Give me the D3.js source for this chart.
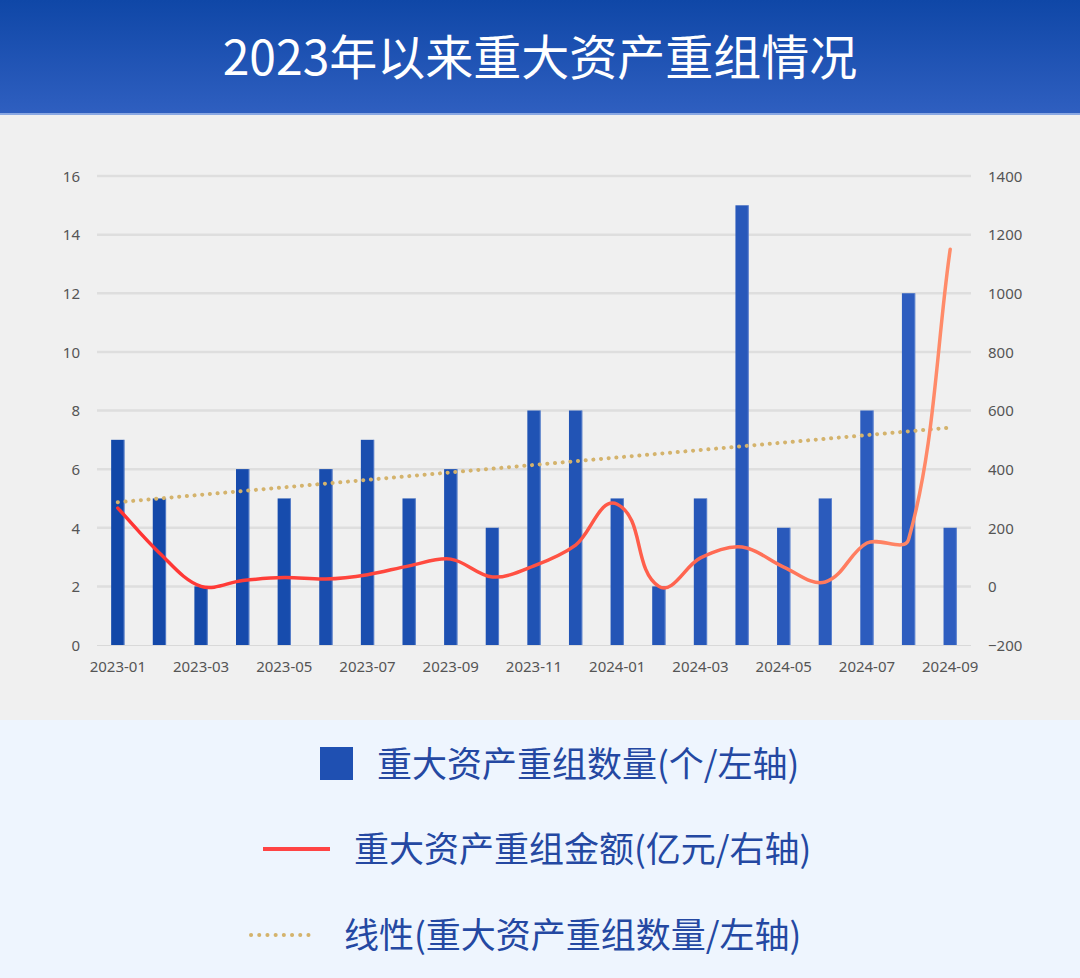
<!DOCTYPE html>
<html><head><meta charset="utf-8">
<script src="https://cdn.jsdelivr.net/npm/d3@7"></script>
<style>
html,body{margin:0;padding:0;background:#f0f0f0;}
svg{display:block;}
</style></head>
<body>
<script>
const months = ["2023-01","2023-02","2023-03","2023-04","2023-05","2023-06","2023-07","2023-08","2023-09","2023-10","2023-11","2023-12","2024-01","2024-02","2024-03","2024-04","2024-05","2024-06","2024-07","2024-08","2024-09"];
const counts = [7,5,2,6,5,6,7,5,6,4,8,8,5,2,5,15,4,5,8,12,4];
const amounts = [267,114,0,20,30,25,40,70,93,32,70,141,280,0,97,134,66,15,148,160,1150];
const leftTicks = [0,2,4,6,8,10,12,14,16];
const rightTicks = [-200,0,200,400,600,800,1000,1200,1400];
const title = "2023年以来重大资产重组情况";
const legendLabels = ["重大资产重组数量(个/左轴)","重大资产重组金额(亿元/右轴)","线性(重大资产重组数量/左轴)"];

const W = 1080, H = 978;
const svg = d3.select("body").append("svg").attr("width", W).attr("height", H);
const defs = svg.append("defs");

const hg = defs.append("linearGradient").attr("id","hdr").attr("x1",0).attr("y1",0).attr("x2",0).attr("y2",1);
hg.append("stop").attr("offset","0%").attr("stop-color","#0f47a7");
hg.append("stop").attr("offset","100%").attr("stop-color","#2f5fc0");

svg.append("rect").attr("x",0).attr("y",0).attr("width",W).attr("height",114).attr("fill","url(#hdr)");
svg.append("rect").attr("x",0).attr("y",113).attr("width",W).attr("height",2).attr("fill","#8aa8e2");
svg.append("rect").attr("x",0).attr("y",115).attr("width",W).attr("height",605).attr("fill","#f0f0f0");
svg.append("rect").attr("x",0).attr("y",720).attr("width",W).attr("height",H-720).attr("fill","#eef5fe");

svg.append("text").attr("x",540).attr("y",75).attr("text-anchor","middle")
  .attr("font-family","'Noto Sans CJK SC', 'Noto Sans', sans-serif").attr("font-size",48)
  .attr("fill","#ffffff").text(title);

const x = d3.scaleBand().domain(months).range([97, 971]).paddingInner(0.68).paddingOuter(0.34);
const yL = d3.scaleLinear().domain([0,16]).range([645,176]);
const yR = d3.scaleLinear().domain([-200,1400]).range([645,176]);

const g = svg.append("g");
g.selectAll("line.grid").data(leftTicks.filter(d=>d>0)).join("line")
  .attr("x1",97).attr("x2",971).attr("y1",d=>yL(d)).attr("y2",d=>yL(d))
  .attr("stroke","#dedede").attr("stroke-width",2.5);
g.append("line").attr("x1",97).attr("x2",971).attr("y1",645.5).attr("y2",645.5).attr("stroke","#d9d9d9").attr("stroke-width",1);

const tickFont = "'Noto Sans', 'DejaVu Sans', sans-serif";
const axL = svg.append("g").attr("transform","translate(80,0)")
  .call(d3.axisLeft(yL).tickValues(leftTicks).tickSize(0).tickPadding(0).tickFormat(d3.format("d")));
const axR = svg.append("g").attr("transform","translate(988,0)")
  .call(d3.axisRight(yR).tickValues(rightTicks).tickSize(0).tickPadding(0).tickFormat(d3.format("d")));
const axB = svg.append("g").attr("transform","translate(0,645)")
  .call(d3.axisBottom(x).tickValues(months.filter((d,i)=>i%2===0)).tickSize(0).tickPadding(16));
[axL,axR,axB].forEach(a=>{
  a.select(".domain").remove();
  a.selectAll("text").attr("font-family",tickFont).attr("font-size",15).attr("fill","#555555");
});
axL.selectAll("text").attr("dy","0.35em");
axR.selectAll("text").attr("dy","0.35em");

const barColor = d3.scaleLinear().domain([0, months.length-1]).range(["#1147a8","#2f5ec0"]);
g.selectAll("rect.bar").data(counts).join("rect")
  .attr("x",(d,i)=>x(months[i])).attr("width",x.bandwidth())
  .attr("y",d=>yL(d)).attr("height",d=>yL(0)-yL(d))
  .attr("fill",(d,i)=>barColor(i));
g.selectAll("rect.edge").data(counts).join("rect")
  .attr("x",(d,i)=>x(months[i])+x.bandwidth()-1).attr("width",1)
  .attr("y",d=>yL(d)).attr("height",d=>yL(0)-yL(d))
  .attr("fill","#7f9fdc").attr("opacity",0.6);

const cx = i => x(months[i]) + x.bandwidth()/2;

const n = counts.length;
const mx = d3.mean(counts,(d,i)=>i), my = d3.mean(counts);
const slope = d3.sum(counts,(d,i)=>(i-mx)*(d-my)) / d3.sum(counts,(d,i)=>(i-mx)*(i-mx));
const icpt = my - slope*mx;
g.append("line").attr("x1",cx(0)).attr("x2",cx(n-1))
  .attr("y1",yL(icpt)).attr("y2",yL(icpt+slope*(n-1)))
  .attr("stroke","#d4b36c").attr("stroke-width",4).attr("stroke-linecap","round")
  .attr("stroke-dasharray","0.1 7.6");

// Excel-like smooth curve: tangent direction from neighbours, length scaled by segment length
function curveSmoothExcel(context) {
  let pts;
  return {
    areaStart(){}, areaEnd(){},
    lineStart(){ pts = []; },
    point(px, py){ pts.push([+px, +py]); },
    lineEnd(){
      const m = pts.length;
      if (!m) return;
      context.moveTo(pts[0][0], pts[0][1]);
      if (m === 1) return;
      const T = pts.map((p,i)=>{
        const a = pts[Math.max(0,i-1)], b = pts[Math.min(m-1,i+1)];
        const dx = b[0]-a[0], dy = b[1]-a[1], l = Math.hypot(dx,dy) || 1;
        return [dx/l, dy/l];
      });
      const s = 0.33;
      for (let i=0;i<m-1;i++){
        const p0 = pts[i], p1 = pts[i+1];
        const L = Math.hypot(p1[0]-p0[0], p1[1]-p0[1]) * s;
        context.bezierCurveTo(p0[0]+T[i][0]*L, p0[1]+T[i][1]*L,
                              p1[0]-T[i+1][0]*L, p1[1]-T[i+1][1]*L,
                              p1[0], p1[1]);
      }
    }
  };
}

const lg = defs.append("linearGradient").attr("id","lineg").attr("gradientUnits","userSpaceOnUse")
  .attr("x1",cx(0)).attr("y1",0).attr("x2",cx(n-1)).attr("y2",0);
lg.append("stop").attr("offset","0%").attr("stop-color","#ff3333");
lg.append("stop").attr("offset","55%").attr("stop-color","#ff5545");
lg.append("stop").attr("offset","100%").attr("stop-color","#ff8c6a");
const line = d3.line().x((d,i)=>cx(i)).y(d=>yR(d)).curve(curveSmoothExcel);
g.append("path").datum(amounts).attr("d",line).attr("fill","none")
  .attr("stroke","url(#lineg)").attr("stroke-width",3.5).attr("stroke-linecap","round");

const legFont = "'Noto Sans CJK SC', sans-serif";
const lc = "#2448a2";
svg.append("rect").attr("x",320).attr("y",747).attr("width",33).attr("height",33).attr("fill","#1f50b2");
svg.append("text").attr("x",377).attr("y",765).attr("dy","0.35em").attr("font-family",legFont)
  .attr("font-size",35).attr("fill",lc).text(legendLabels[0]);
svg.append("line").attr("x1",263).attr("x2",330).attr("y1",849).attr("y2",849)
  .attr("stroke","#ff4444").attr("stroke-width",4);
svg.append("text").attr("x",354).attr("y",850).attr("dy","0.35em").attr("font-family",legFont)
  .attr("font-size",35).attr("fill",lc).text(legendLabels[1]);
svg.append("line").attr("x1",251).attr("x2",316).attr("y1",935).attr("y2",935)
  .attr("stroke","#d4b36c").attr("stroke-width",4).attr("stroke-linecap","round")
  .attr("stroke-dasharray","0.1 8.1");
svg.append("text").attr("x",344).attr("y",936).attr("dy","0.35em").attr("font-family",legFont)
  .attr("font-size",35).attr("fill",lc).text(legendLabels[2]);
</script>
</body></html>
